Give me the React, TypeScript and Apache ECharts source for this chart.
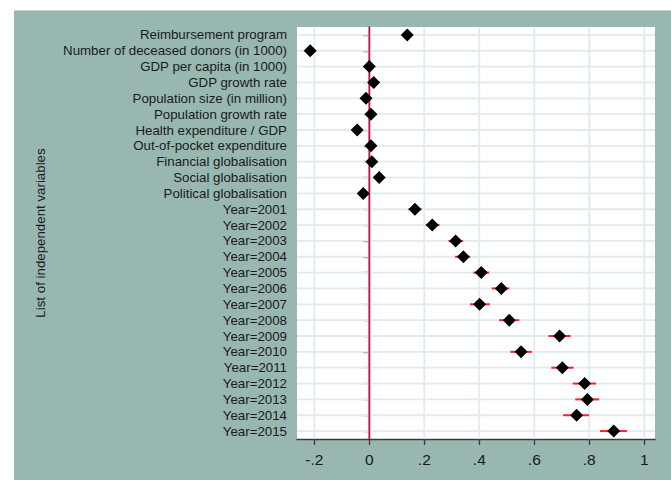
import React, { useEffect, useRef } from "react";
import * as echarts from "echarts";

const variables = [
  "Reimbursement program",
  "Number of deceased donors (in 1000)",
  "GDP per capita (in 1000)",
  "GDP growth rate",
  "Population size (in million)",
  "Population growth rate",
  "Health expenditure / GDP",
  "Out-of-pocket expenditure",
  "Financial globalisation",
  "Social globalisation",
  "Political globalisation",
  "Year=2001",
  "Year=2002",
  "Year=2003",
  "Year=2004",
  "Year=2005",
  "Year=2006",
  "Year=2007",
  "Year=2008",
  "Year=2009",
  "Year=2010",
  "Year=2011",
  "Year=2012",
  "Year=2013",
  "Year=2014",
  "Year=2015",
];

const coef = [
  0.138, -0.215, 0.0, 0.016, -0.012, 0.006, -0.044, 0.006, 0.009, 0.036, -0.022,
  0.166, 0.229, 0.314, 0.342, 0.407, 0.48, 0.401, 0.509, 0.692, 0.552, 0.702,
  0.783, 0.793, 0.754, 0.889,
];

const ciLow = [
  0.132, -0.221, -0.005, 0.01, -0.018, 0.0, -0.05, 0.0, 0.003, 0.03, -0.028,
  0.142, 0.205, 0.288, 0.312, 0.378, 0.445, 0.366, 0.472, 0.652, 0.513, 0.662,
  0.74, 0.749, 0.705, 0.839,
];

const ciHigh = [
  0.144, -0.209, 0.005, 0.022, -0.006, 0.012, -0.038, 0.012, 0.015, 0.042, -0.016,
  0.19, 0.255, 0.341, 0.367, 0.436, 0.509, 0.438, 0.545, 0.732, 0.591, 0.743,
  0.824, 0.836, 0.799, 0.937,
];

const xTicks = [-0.2, 0, 0.2, 0.4, 0.6, 0.8, 1];
const xTickLabels = ["-.2", "0", ".2", ".4", ".6", ".8", "1"];
const referenceLine = [0];

const FONT = "'Liberation Sans', Arial, Helvetica, sans-serif";
const GRID_COLOR = "#e0eaef";

export default function App() {
  const ref = useRef<HTMLDivElement>(null);

  useEffect(() => {
    if (!ref.current) return;
    const chart = echarts.init(ref.current, undefined, { renderer: "svg" });

    const option: any = {
      animation: false,
      backgroundColor: "transparent",
      textStyle: { fontFamily: FONT },
      grid: {
        left: 283,
        right: 16,
        top: 16,
        bottom: 41,
        show: true,
        backgroundColor: "#ffffff",
        borderWidth: 0,
      },
      xAxis: {
        type: "value",
        min: -0.263,
        max: 1.039,
        axisLine: { show: true, onZero: false, lineStyle: { color: "#3a3a3a", width: 1.3 } },
        axisTick: {
          show: true,
          length: 6,
          customValues: xTicks,
          lineStyle: { color: "#3a3a3a", width: 1.3 },
        },
        axisLabel: {
          customValues: xTicks,
          margin: 12,
          fontSize: 15.5,
          color: "#1a1a1a",
          fontFamily: FONT,
          formatter: (v: number) => {
            const i = xTicks.findIndex((t) => Math.abs(t - v) < 1e-6);
            return i >= 0 ? xTickLabels[i] : "";
          },
        },
        splitLine: { show: false },
      },
      yAxis: {
        type: "category",
        data: variables,
        inverse: true,
        name: "List of independent variables",
        nameLocation: "middle",
        nameGap: 250,
        nameTextStyle: { fontSize: 13.3, color: "#1a1a1a", fontFamily: FONT },
        axisLine: { show: true, lineStyle: { color: "#3a3a3a", width: 1.3 } },
        axisTick: {
          show: true,
          alignWithLabel: true,
          length: 6,
          lineStyle: { color: "#3a3a3a", width: 1.3 },
        },
        axisLabel: {
          interval: 0,
          margin: 10,
          fontSize: 13.3,
          color: "#1a1a1a",
          fontFamily: FONT,
        },
        splitLine: { show: false },
      },
      series: [
        {
          type: "custom",
          name: "vgrid",
          z: 1,
          silent: true,
          data: xTicks.map((t) => [t]),
          encode: { x: 0 },
          renderItem: (params: any, api: any) => {
            const cs = params.coordSys;
            const x = api.coord([api.value(0), 0])[0];
            return {
              type: "line",
              shape: { x1: x, y1: cs.y, x2: x, y2: cs.y + cs.height },
              style: { stroke: GRID_COLOR, lineWidth: 1.8 },
            };
          },
        },
        {
          type: "custom",
          name: "hgrid",
          z: 1,
          silent: true,
          data: variables.map((_, i) => [i]),
          encode: { y: 0 },
          renderItem: (params: any, api: any) => {
            const cs = params.coordSys;
            const y = api.coord([0, api.value(0)])[1];
            return {
              type: "line",
              shape: { x1: cs.x, y1: y, x2: cs.x + cs.width, y2: y },
              style: { stroke: GRID_COLOR, lineWidth: 1.8 },
            };
          },
        },
        {
          type: "custom",
          name: "zero",
          z: 2,
          silent: true,
          data: referenceLine.map((v) => [v]),
          encode: { x: 0 },
          renderItem: (params: any, api: any) => {
            const cs = params.coordSys;
            const x = api.coord([api.value(0), 0])[0];
            return {
              type: "line",
              shape: { x1: x, y1: cs.y, x2: x, y2: cs.y + cs.height },
              style: { stroke: "#cc1040", lineWidth: 1.7 },
            };
          },
        },
        {
          type: "custom",
          name: "ci",
          z: 3,
          silent: true,
          data: variables.map((_, i) => [i, ciLow[i], ciHigh[i]]),
          encode: { y: 0, x: [1, 2] },
          renderItem: (params: any, api: any) => {
            const cat = api.value(0);
            const p1 = api.coord([api.value(1), cat]);
            const p2 = api.coord([api.value(2), cat]);
            return {
              type: "line",
              shape: { x1: p1[0], y1: p1[1], x2: p2[0], y2: p2[1] },
              style: { stroke: "#ff2020", lineWidth: 2 },
            };
          },
        },
        {
          type: "scatter",
          name: "coef",
          z: 4,
          symbol: "diamond",
          symbolSize: [13, 13],
          itemStyle: { color: "#000000", opacity: 1 },
          data: variables.map((v, i) => [coef[i], v]),
        },
      ],
    };

    chart.setOption(option);
    return () => chart.dispose();
  }, []);

  return (
    <div
      style={{
        position: "absolute",
        left: 0,
        top: 0,
        width: 671,
        height: 480,
        background: "#ffffff",
        overflow: "hidden",
      }}
    >
      <div
        style={{
          position: "absolute",
          left: 14,
          top: 10,
          width: 657,
          height: 470,
          background: "#98b7b0",
          borderTop: "1px solid #c4d6d1",
          boxSizing: "border-box",
        }}
      >
        <div ref={ref} style={{ width: 657, height: 469 }} />
      </div>
    </div>
  );
}
